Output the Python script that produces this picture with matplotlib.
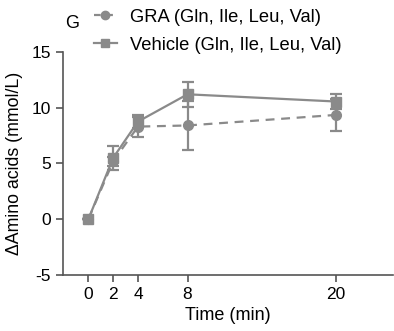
import matplotlib
matplotlib.use("Agg")
import matplotlib.pyplot as plt
from matplotlib.lines import Line2D

plt.rcParams['font.family'] = ['Liberation Sans', 'DejaVu Sans']
plt.rcParams['axes.unicode_minus'] = False

time = [0, 2, 4, 8, 20]
gra = [0, 5.2, 8.3, 8.4, 9.35]
gra_err = [0, 0.4, 0.9, 2.2, 1.45]
veh = [0, 5.5, 8.75, 11.2, 10.55]
veh_err = [0, 1.1, 0.6, 1.1, 0.65]
xticks = [0, 2, 4, 8, 20]

grey = '#8a8a8a'

fig = plt.figure(figsize=(3.94, 3.31), dpi=100)
ax = fig.add_axes([0.16, 0.17, 0.838, 0.673])

ax.errorbar(time, gra, yerr=gra_err, color=grey, ls='--', lw=1.6, marker='o', ms=7,
            capsize=4, capthick=1.6, elinewidth=1.6, dashes=(4, 3))
ax.errorbar(time, veh, yerr=veh_err, color=grey, ls='-', lw=1.6, marker='s', ms=7,
            capsize=4, capthick=1.6, elinewidth=1.6)

ax.set_xlim(-2.05, 24.6)
ax.set_ylim(-5, 15)
ax.set_xticks(xticks)
ax.set_yticks([-5, 0, 5, 10, 15])
ax.spines['top'].set_visible(False)
ax.spines['right'].set_visible(False)
for s in ['left', 'bottom']:
    ax.spines[s].set_color('#555555')
    ax.spines[s].set_linewidth(1.2)
ax.tick_params(direction='out', length=5, width=1.2, color='#555555', labelsize=12.5)
ax.set_xlabel('Time (min)', fontsize=13)
ax.set_ylabel('\u0394Amino acids (mmol/L)', fontsize=12.8, labelpad=6)

handles = [Line2D([], [], color=grey, ls='--', lw=1.6, marker='o', ms=6, dashes=(3, 2.5)),
           Line2D([], [], color=grey, ls='-', lw=1.6, marker='s', ms=6)]
labels = ['GRA (Gln, Ile, Leu, Val)', 'Vehicle (Gln, Ile, Leu, Val)']
fig.legend(handles, labels, loc='upper left', bbox_to_anchor=(0.238, 0.974),
           frameon=False, fontsize=13.2, handlelength=1.25, handletextpad=0.7,
           labelspacing=0.6, borderpad=0, borderaxespad=0)
fig.text(0.165, 0.93, 'G', fontsize=13, ha='left', va='center')

fig.savefig('out.png', dpi=100)
